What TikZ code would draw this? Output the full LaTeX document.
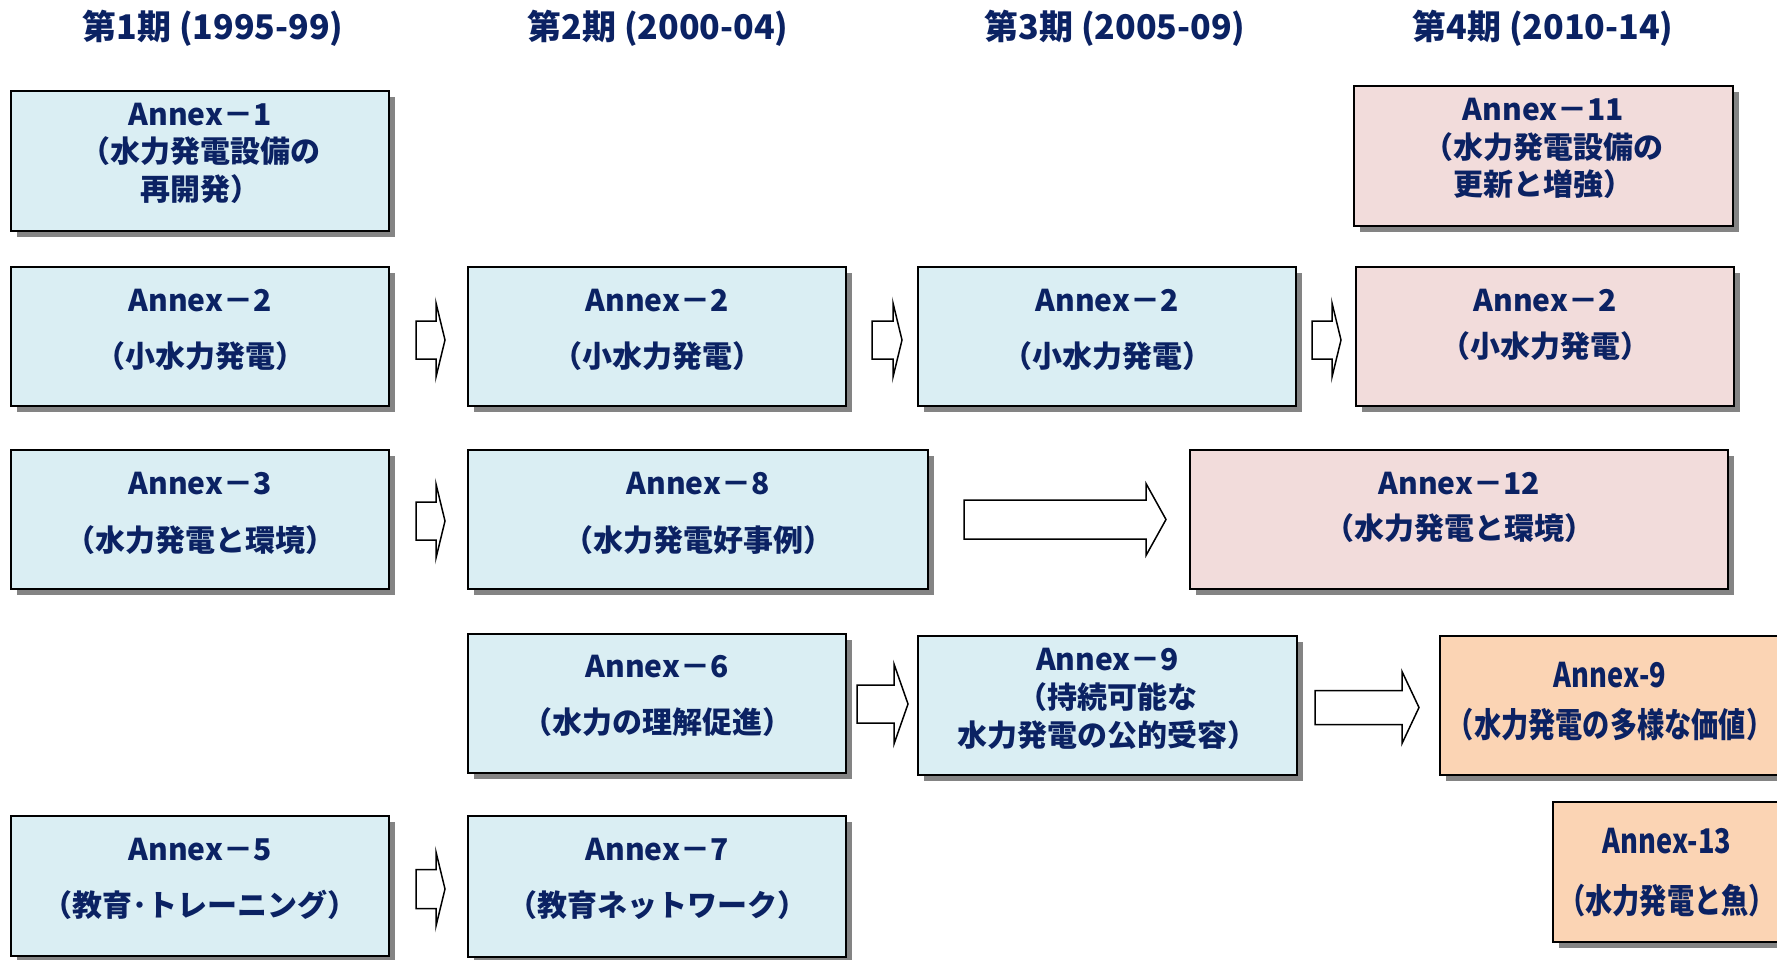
\documentclass[tikz,border=0pt]{standalone}
\usepackage{fontspec}
\setmainfont{Noto Sans CJK JP}
\newfontfamily\jpcond[FakeStretch=0.8]{Noto Sans CJK JP}
\usetikzlibrary{calc,shadows}
\definecolor{navy}{HTML}{0B2263}
\definecolor{bluefill}{HTML}{DAEEF3}
\definecolor{pinkfill}{HTML}{F2DCDB}
\definecolor{orangefill}{HTML}{FBD4B4}
\definecolor{shadowgray}{HTML}{848484}
\newcommand\blockarr[5]{%
  \draw[blockarrow] ($(#1)+(0,-#3)$) -- ($(#2)+(-#5,-#3)$) -- ($(#2)+(-#5,-#4)$) -- (#2)
    -- ($(#2)+(-#5,#4)$) -- ($(#2)+(-#5,#3)$) -- ($(#1)+(0,#3)$) -- cycle;}
\begin{document}
\begin{tikzpicture}[x=0.5pt,y=-0.5pt,
  box/.style={draw=black, line width=1pt, inner sep=0pt, minimum height=70pt,
    drop shadow={shadow xshift=3pt, shadow yshift=-3pt, fill=shadowgray, opacity=1}},
  bbox/.style={box, fill=bluefill},
  pbox/.style={box, fill=pinkfill},
  obox/.style={box, fill=orangefill},
  txt/.style={text=navy, align=center, inner sep=0pt, font=\bfseries\fontsize{15}{#1}\selectfont},
  otxt/.style={text=navy, align=center, inner sep=0pt, font=\jpcond\bfseries\fontsize{17}{#1}\selectfont},
  ttl/.style={text=navy, inner sep=0pt, font=\bfseries\fontsize{17}{20}\selectfont},
  blockarrow/.style={draw=black, fill=white, line width=0.75pt, line join=miter}]
\clip (0,0) rectangle (1777,959);
\fill[white] (0,0) rectangle (1777,959);

% titles
\node[ttl] (T1) at (213,28) {第1期 (1995-99)};
\node[ttl] (T2) at (658,28) {第2期 (2000-04)};
\node[ttl] (T3) at (1115,28) {第3期 (2005-09)};
\node[ttl] (T4) at (1543,28) {第4期 (2010-14)};

% row 1
\node[bbox, minimum width=189pt] (A1) at (200,161) {};
\node[txt=18.7] (A1t) at (200,153) {Annex－1\\（水力発電設備の\\再開発）};
\node[pbox, minimum width=189.5pt] (A11) at (1543.5,156) {};
\node[txt=18.7] (A11t) at (1543.5,148.5) {Annex－11\\（水力発電設備の\\更新と増強）};

% row 2
\node[bbox, minimum width=189pt, minimum height=69.5pt] (A2a) at (200,336.5) {};
\node[txt=28.3] (A2at) at (200,330) {Annex－2\\（小水力発電）};
\node[bbox, minimum width=189pt, minimum height=69.5pt] (A2b) at (657,336.5) {};
\node[txt=28.3] (A2bt) at (657,330) {Annex－2\\（小水力発電）};
\node[bbox, minimum width=189pt, minimum height=69.5pt] (A2c) at (1107,336.5) {};
\node[txt=28.3] (A2ct) at (1107,330) {Annex－2\\（小水力発電）};
\node[pbox, minimum width=189pt, minimum height=69.5pt] (A2d) at (1545,336.5) {};
\node[txt=23.2] (A2dt) at (1545,325) {Annex－2\\（小水力発電）};

% row 3
\node[bbox, minimum width=189pt, minimum height=69.5pt] (A3) at (200,519.5) {};
\node[txt=28.5] (A3t) at (200,513.5) {Annex－3\\（水力発電と環境）};
\node[bbox, minimum width=230pt, minimum height=69.5pt] (A8) at (698,519.5) {};
\node[txt=28.5] (A8t) at (698,513.5) {Annex－8\\（水力発電好事例）};
\node[pbox, minimum width=269pt, minimum height=69.5pt] (A12) at (1459,519.5) {};
\node[txt=22.5] (A12t) at (1459,507.5) {Annex－12\\（水力発電と環境）};

% row 4
\node[bbox, minimum width=189pt, minimum height=69.5pt] (A6) at (657,703.5) {};
\node[txt=27.8] (A6t) at (657,696) {Annex－6\\（水力の理解促進）};
\node[bbox, minimum width=189.5pt, minimum height=69.5pt] (A9) at (1107.5,705.5) {};
\node[txt=19] (A9t) at (1107.5,698.6) {Annex－9\\（持続可能な\\水力発電の公的受容）};
\node[obox, minimum width=171pt, minimum height=69.5pt] (A9o) at (1611,705.5) {};
\node[otxt=25] (A9ot) at (1610,701.5) {Annex-9\\（水力発電の多様な価値）};

% row 5
\node[bbox, minimum width=189pt] (A5) at (200,886) {};
\node[txt=28] (A5t) at (200,879) {Annex－5\\（教育･トレーニング）};
\node[bbox, minimum width=189pt, minimum height=70.5pt] (A7) at (657,886.5) {};
\node[txt=28] (A7t) at (657,879) {Annex－7\\（教育ネットワーク）};
\node[obox, minimum width=114.5pt] (A13) at (1667.5,872) {};
\node[otxt=30] (A13t) at (1667,873) {Annex-13\\（水力発電と魚）};

% block arrows
\coordinate (s1) at ($(A2a.east)+(26,3.5)$);  \coordinate (e1) at ($(A2b.west)+(-22,3.5)$);
\coordinate (s2) at ($(A2b.east)+(25,3.5)$);  \coordinate (e2) at ($(A2c.west)+(-15,3.5)$);
\coordinate (s3) at ($(A2c.east)+(15,3.5)$);  \coordinate (e3) at ($(A2d.west)+(-14,3.5)$);
\coordinate (s4) at ($(A3.east)+(26,1.5)$);   \coordinate (e4) at ($(A8.west)+(-22,1.5)$);
\coordinate (s5) at ($(A8.east)+(35,0)$);     \coordinate (e5) at ($(A12.west)+(-23,0)$);
\coordinate (s6) at ($(A6.east)+(10,0.5)$);   \coordinate (e6) at ($(A9.west)+(-9,-1.5)$);
\coordinate (s7) at ($(A9.east)+(17,2)$);     \coordinate (e7) at ($(A9o.west)+(-20,2)$);
\coordinate (s8) at ($(A5.east)+(26,3)$);     \coordinate (e8) at ($(A7.west)+(-22,2.5)$);
\blockarr{s1}{e1}{19}{37}{9}
\blockarr{s2}{e2}{19}{37}{9}
\blockarr{s3}{e3}{19}{37}{9}
\blockarr{s4}{e4}{19}{37}{9}
\blockarr{s5}{e5}{19.5}{36}{20}
\blockarr{s6}{e6}{19}{40}{14}
\blockarr{s7}{e7}{17}{36}{17}
\blockarr{s8}{e8}{19.5}{37}{9}
\end{tikzpicture}
\end{document}
